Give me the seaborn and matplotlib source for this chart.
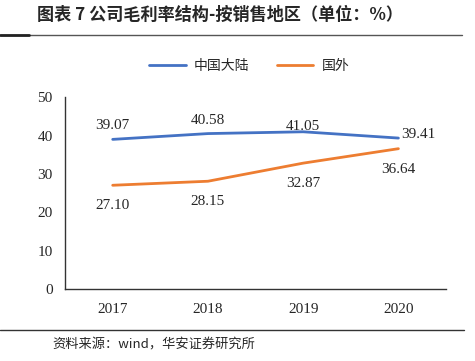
import pandas as pd
import matplotlib.pyplot as plt
import seaborn as sns
from matplotlib.lines import Line2D

# data
years = ["2017", "2018", "2019", "2020"]
mainland = [39.07, 40.58, 41.05, 39.41]
overseas = [27.10, 28.15, 32.87, 36.64]
series_names = ["中国大陆", "国外"]
colors = ["#4472C4", "#ED7D31"]

df = pd.DataFrame({
    "year": years * 2,
    "value": mainland + overseas,
    "region": [series_names[0]] * 4 + [series_names[1]] * 4,
})

sns.set_style("white")
plt.rcParams["font.family"] = ["Liberation Serif", "Noto Sans CJK SC"]

fig = plt.figure(figsize=(4.75, 3.61), dpi=100)
ax = fig.add_axes([0.137, 0.199, 0.802, 0.531])

sns.lineplot(data=df, x="year", y="value", hue="region", palette=colors,
             linewidth=2, ax=ax, legend=False, sort=False)

ax.set_ylim(0, 50)
ax.set_xlim(-0.5, 3.5)
ax.set_yticks(range(0, 51, 10))
ax.set_xlabel("")
ax.set_ylabel("")

# x ticks between categories, labels at centers
ax.set_xticks([-0.5, 0.5, 1.5, 2.5, 3.5])
ax.set_xticklabels([])
ax.set_xticks(range(4), minor=True)
ax.set_xticklabels(years, minor=True)
ax.tick_params(axis="x", which="major", length=5, width=1, color="#333333", direction="out")
ax.tick_params(axis="x", which="minor", length=0, pad=10, labelsize=11)
ax.tick_params(axis="y", length=5, width=1, color="#333333", direction="out", labelsize=11, pad=4)

for s in ["top", "right"]:
    ax.spines[s].set_visible(False)
for s in ["left", "bottom"]:
    ax.spines[s].set_color("#333333")
    ax.spines[s].set_linewidth(1)

# data labels
for i, v in enumerate(mainland):
    if i == 3:
        ax.annotate(f"{v:.2f}", (i, v), xytext=(2, -2), textcoords="offset points",
                    ha="left", va="bottom", fontsize=11)
    elif i == 2:
        ax.annotate(f"{v:.2f}", (i, v), xytext=(0, -1), textcoords="offset points",
                    ha="center", va="bottom", fontsize=11)
    else:
        ax.annotate(f"{v:.2f}", (i, v), xytext=(0, 5), textcoords="offset points",
                    ha="center", va="bottom", fontsize=11)
for i, v in enumerate(overseas):
    ax.annotate(f"{v:.2f}", (i, v), xytext=(0, -10), textcoords="offset points",
                ha="center", va="top", fontsize=11)

# legend
handles = [Line2D([0], [0], color=c, lw=2) for c in colors]
fig.legend(handles, series_names, loc="center", bbox_to_anchor=(0.525, 0.817),
           ncol=2, frameon=False, prop={"family": "Noto Sans CJK SC", "size": 10},
           handlelength=2.6, columnspacing=2.0, handletextpad=0.6)

# title, rules and source
fig.text(0.078, 0.958, "图表 7 公司毛利率结构-按销售地区（单位：%）",
         fontsize=12.3, fontweight="bold", family="Noto Sans CJK SC", va="center")
fig.add_artist(Line2D([0, 0.973], [0.903, 0.903], color="#555555", lw=1))
fig.add_artist(Line2D([0, 0.06], [0.903, 0.903], color="#222222", lw=2))
fig.add_artist(Line2D([0, 0.977], [0.086, 0.086], color="#333333", lw=1))
fig.text(0.11, 0.044, "资料来源：wind，华安证券研究所", fontsize=9.5,
         family="Noto Sans CJK SC", va="center")

fig.savefig("out.png", dpi=100)
